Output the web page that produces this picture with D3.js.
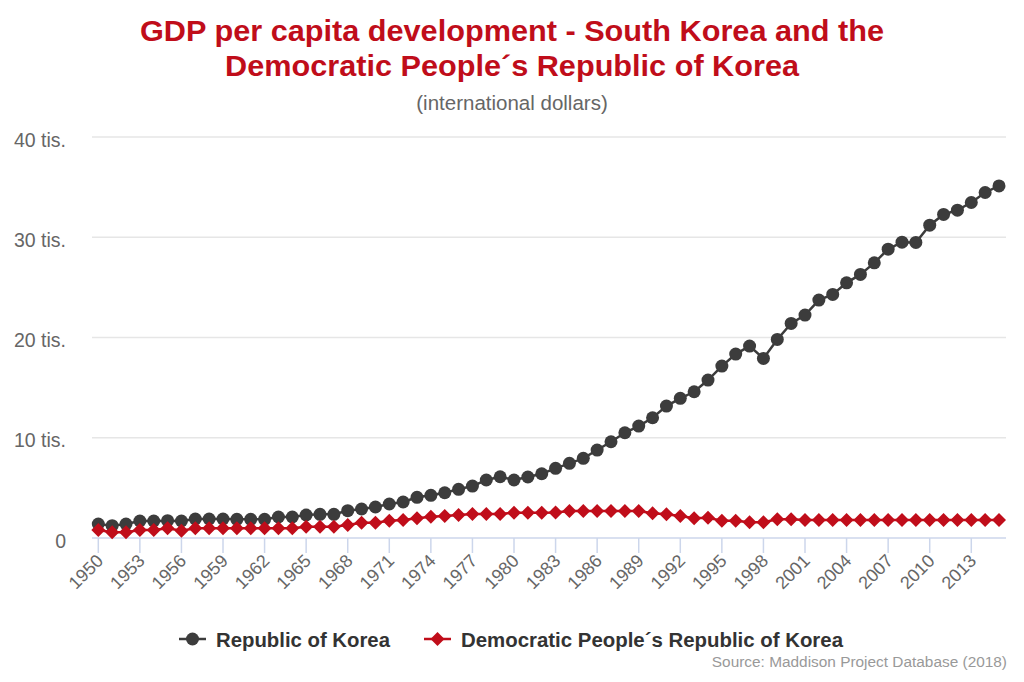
<!DOCTYPE html>
<html>
<head>
<meta charset="utf-8">
<script src="https://cdn.jsdelivr.net/npm/d3@7"></script>
<style>
  body { margin: 0; background: #fff; }
  svg { display: block; font-family: "Liberation Sans", Arial, sans-serif; }
</style>
</head>
<body>
<svg id="chart" width="1024" height="682"></svg>
<script>
// years 1950..2015
var years = d3.range(1950, 2016);

var southKorea = [
    1396, 1226, 1396, 1695, 1695, 1725, 1695, 1894, 1894, 1894,
    1864, 1864, 1864, 2094, 2094, 2293, 2363, 2363, 2722, 2891,
    3091, 3390, 3589, 4058, 4257, 4516, 4855, 5184, 5783, 6112,
    5783, 6082, 6411, 6949, 7448, 7946, 8774, 9601, 10498, 11166,
    11994, 13160, 13928, 14586, 15753, 17148, 18345, 19142, 17916, 19810,
    21406, 22233, 23729, 24297, 25454, 26291, 27447, 28813, 29511, 29481,
    31206, 32273, 32702, 33469, 34466, 35124
];

var northKorea = [
    798, 568, 568, 798, 798, 967, 728, 967, 967, 967,
    967, 967, 967, 967, 967, 1127, 1127, 1127, 1296, 1525,
    1525, 1725, 1795, 1964, 2124, 2193, 2293, 2393, 2393, 2393,
    2522, 2522, 2522, 2550, 2692, 2692, 2692, 2692, 2692, 2692,
    2463, 2363, 2193, 1964, 2024, 1725, 1725, 1565, 1565, 1864,
    1864, 1800, 1800, 1800, 1800, 1800, 1800, 1800, 1800, 1800,
    1800, 1800, 1800, 1800, 1800, 1800
];

var yTicks = [0, 10000, 20000, 30000, 40000];
var yTickLabels = ["0", "10 tis.", "20 tis.", "30 tis.", "40 tis."];
var xTicks = d3.range(1950, 2016, 3);

var seriesNames = ["Republic of Korea", "Democratic People\u00b4s Republic of Korea"];
var darkColor = "#3c3c3c",
    redColor = "#c00d1a";

var svg = d3.select("#chart");

var plotLeft = 92, plotRight = 1006, plotTop = 137, plotBottom = 538;

var xScale = d3.scaleLinear().domain([1950, 2015]).range([98.3, 999]),
    yScale = d3.scaleLinear().domain([0, 40000]).range([plotBottom, plotTop]);

// titles
svg.append("text")
    .attr("x", 512).attr("y", 41)
    .attr("text-anchor", "middle")
    .attr("font-size", "29px").attr("font-weight", "bold")
    .attr("textLength", 744).attr("lengthAdjust", "spacingAndGlyphs")
    .style("fill", redColor)
    .text("GDP per capita development - South Korea and the");
svg.append("text")
    .attr("x", 512).attr("y", 75.5)
    .attr("text-anchor", "middle")
    .attr("font-size", "29px").attr("font-weight", "bold")
    .attr("textLength", 574).attr("lengthAdjust", "spacingAndGlyphs")
    .style("fill", redColor)
    .text("Democratic People\u00b4s Republic of Korea");
svg.append("text")
    .attr("x", 512).attr("y", 110)
    .attr("text-anchor", "middle")
    .attr("font-size", "20.5px")
    .style("fill", "#666")
    .text("(international dollars)");

// grid
svg.append("g").selectAll("line")
    .data(yTicks.slice(1))
    .enter().append("line")
    .attr("x1", plotLeft).attr("x2", plotRight)
    .attr("y1", function (d) { return yScale(d); })
    .attr("y2", function (d) { return yScale(d); })
    .attr("stroke", "#e6e6e6")
    .attr("stroke-width", 1.5);

// y labels
svg.append("g").selectAll("text")
    .data(yTicks)
    .enter().append("text")
    .attr("x", 66)
    .attr("y", function (d) { return yScale(d) + 9.5; })
    .attr("text-anchor", "end")
    .attr("font-size", "19.5px")
    .style("fill", "#666")
    .text(function (d, i) { return yTickLabels[i]; });

// x axis
var xAxis = svg.append("g");
xAxis.append("line")
    .attr("x1", plotLeft).attr("x2", plotRight)
    .attr("y1", plotBottom).attr("y2", plotBottom)
    .attr("stroke", "#ccd6eb").attr("stroke-width", 1.5);
xAxis.selectAll(".tick")
    .data(xTicks)
    .enter().append("line")
    .attr("class", "tick")
    .attr("x1", function (d) { return xScale(d); })
    .attr("x2", function (d) { return xScale(d); })
    .attr("y1", plotBottom).attr("y2", plotBottom + 15)
    .attr("stroke", "#ccd6eb").attr("stroke-width", 1.5);
xAxis.selectAll(".lbl")
    .data(xTicks)
    .enter().append("text")
    .attr("class", "lbl")
    .attr("transform", function (d) {
        return "translate(" + (xScale(d) + 6) + "," + (plotBottom + 24) + ") rotate(-45)";
    })
    .attr("text-anchor", "end")
    .attr("font-size", "18px")
    .style("fill", "#666")
    .text(function (d) { return d; });

function diamond(x, y, r) {
    return "M" + x + "," + (y - r) + "L" + (x + r) + "," + y +
        "L" + x + "," + (y + r) + "L" + (x - r) + "," + y + "Z";
}

function add_series(values, color, shape) {
    var data = years.map(function (y, i) { return { year: y, value: values[i] }; });
    var line = d3.line()
        .x(function (d) { return xScale(d.year); })
        .y(function (d) { return yScale(d.value); });
    var g = svg.append("g");
    g.append("path")
        .datum(data)
        .attr("d", line)
        .attr("fill", "none")
        .attr("stroke", color)
        .attr("stroke-width", 2.5);
    if (shape == "circle") {
        g.selectAll("circle")
            .data(data)
            .enter().append("circle")
            .attr("cx", function (d) { return xScale(d.year); })
            .attr("cy", function (d) { return yScale(d.value); })
            .attr("r", 6.5)
            .attr("fill", color);
    } else {
        g.selectAll(".mk")
            .data(data)
            .enter().append("path")
            .attr("class", "mk")
            .attr("d", function (d) { return diamond(xScale(d.year), yScale(d.value), 7); })
            .attr("fill", color);
    }
}

add_series(southKorea, darkColor, "circle");
add_series(northKorea, redColor, "diamond");

// legend
var legend = svg.append("g");
legend.append("line")
    .attr("x1", 179).attr("x2", 206).attr("y1", 639).attr("y2", 639)
    .attr("stroke", darkColor).attr("stroke-width", 2.5);
legend.append("circle")
    .attr("cx", 192.5).attr("cy", 639).attr("r", 6.5).attr("fill", darkColor);
legend.append("text")
    .attr("x", 216).attr("y", 646.5)
    .attr("font-size", "20.3px").attr("font-weight", "bold")
    .attr("textLength", 174).attr("lengthAdjust", "spacingAndGlyphs")
    .style("fill", "#333")
    .text(seriesNames[0]);
legend.append("line")
    .attr("x1", 424).attr("x2", 451).attr("y1", 639).attr("y2", 639)
    .attr("stroke", redColor).attr("stroke-width", 2.5);
legend.append("path")
    .attr("d", diamond(437.5, 639, 7)).attr("fill", redColor);
legend.append("text")
    .attr("x", 461).attr("y", 646.5)
    .attr("font-size", "20.3px").attr("font-weight", "bold")
    .attr("textLength", 382).attr("lengthAdjust", "spacingAndGlyphs")
    .style("fill", "#333")
    .text(seriesNames[1]);

// credits
svg.append("text")
    .attr("x", 1007).attr("y", 667)
    .attr("text-anchor", "end")
    .attr("font-size", "15.4px")
    .style("fill", "#999")
    .text("Source: Maddison Project Database (2018)");
</script>
</body>
</html>
